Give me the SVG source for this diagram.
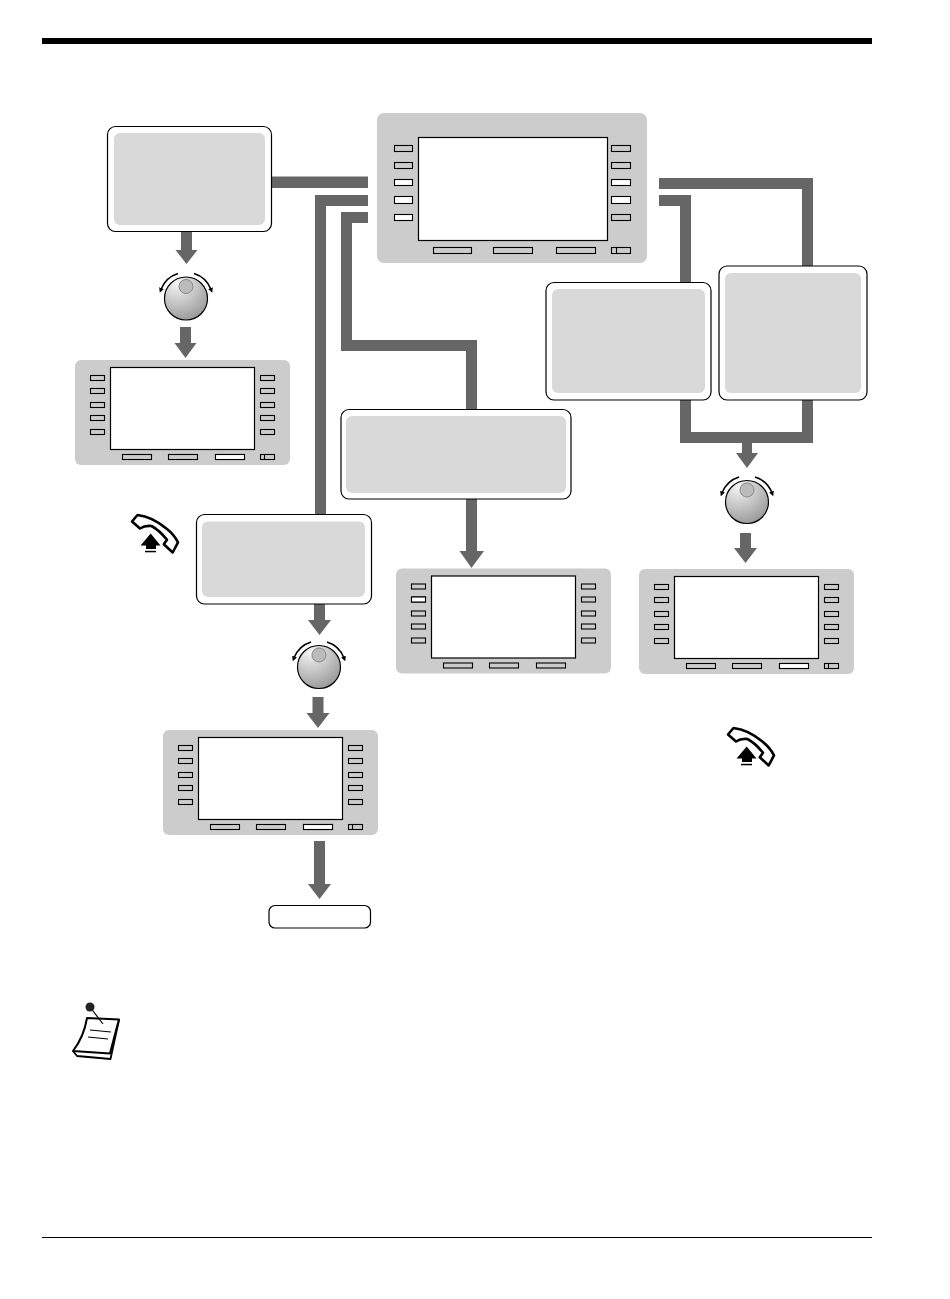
<svg xmlns="http://www.w3.org/2000/svg" xmlns:xlink="http://www.w3.org/1999/xlink" width="950" height="1299" viewBox="0 0 950 1299">
<style>
.panel{fill:#ccc}
.screen{fill:#fff;stroke:#000;stroke-width:1.2}
.btn{fill:#ccc;stroke:#000;stroke-width:1.1}
.on{fill:#fff;stroke:#000;stroke-width:1.1}
.bubble{fill:#fff;stroke:#000;stroke-width:1.2}
.inner{fill:#d9d9d9}
.conn{fill:#666}
</style>
<defs>
<radialGradient id="knob" cx="0.3" cy="0.15" r="1">
<stop offset="0" stop-color="#f4f4f4"/><stop offset="1" stop-color="#8f8f8f"/>
</radialGradient>
<marker id="tick" markerUnits="userSpaceOnUse" markerWidth="5" markerHeight="5" refX="1.500" refY="2.500" orient="auto"><path d="M0 0L5 2.500L0 5Z" fill="#000"/></marker>
<g id="small">
<rect class="panel" width="215" height="105" rx="6"/>
<rect class="screen" x="35.5" y="7.5" width="144" height="82"/>
<g class="btn">
<rect x="15.5" y="15.5" width="14" height="5"/><rect x="15.5" y="28.5" width="14" height="5"/><rect x="15.5" y="42.5" width="14" height="5"/><rect x="15.5" y="55.5" width="14" height="5"/><rect x="15.5" y="69.5" width="14" height="5"/>
<rect x="185.5" y="15.5" width="14" height="5"/><rect x="185.5" y="28.5" width="14" height="5"/><rect x="185.5" y="42.5" width="14" height="5"/><rect x="185.5" y="55.5" width="14" height="5"/><rect x="185.5" y="69.5" width="14" height="5"/>
<rect x="47.5" y="94.5" width="29" height="5"/><rect x="93.5" y="94.5" width="29" height="5"/><rect x="140.5" y="94.5" width="29" height="5"/>
</g>
</g>
<g id="fourth" class="btn"><rect x="185.500" y="94.500" width="14" height="5"/><path d="M189.500 94.500V99.500" fill="none"/></g>
<g id="dial">
<path d="M-8 -25A26.500 26.500 0 0 0 -25 -9" fill="none" stroke="#000" stroke-width="1.600" marker-end="url(#tick)"/>
<path d="M8 -25A26.500 26.500 0 0 1 25 -9" fill="none" stroke="#000" stroke-width="1.600" marker-end="url(#tick)"/>
<circle r="21.500" fill="url(#knob)" stroke="#000" stroke-width="1.200"/>
<circle cy="-12" r="7" fill="#bbb" stroke="#888" stroke-width="1"/>
</g>
<g id="hand">
<path d="M132 521.500L137.500 515C147 516 158 521.500 166.700 528.800C172 533 175.500 537.500 178 542.300L172.700 552.500L163.800 544.300L167 539.800C162 533.500 157 529 151.500 526C147 525.500 143 526.500 140 528.500Z" fill="#fff" stroke="#000" stroke-width="2.600" stroke-linejoin="round"/>
<path d="M140.500 545.500L150.700 533.500L160.500 545.500H156V549H146V545.500Z" fill="#000"/>
<rect x="145" y="550.800" width="11" height="1.500" fill="#000"/>
</g>
</defs>

<rect x="42" y="38" width="830" height="6" fill="#000"/>
<rect x="42" y="1237" width="830" height="1" fill="#000"/>

<g id="connectors" class="conn">
<path d="M272 176.500H368V188H272Z"/>
<path d="M315 514V195H368V206H326V514Z"/>
<path d="M341 212H368V223H352V340H477V409H466V351H341Z"/>
<path d="M659 178H813V266H802V189H659Z"/>
<path d="M659 195H691V282H680V206H659Z"/>
<path d="M680 400H691V432H802V400H813V443H752V453H758L747 468L736 453H742V443H680Z"/>
<path d="M181 232H192V250H197.500L186.500 264L175.500 250H181Z"/>
<path d="M180 327H191V343H196.500L185.500 358L174.500 343H180Z"/>
<path d="M314 604H325V620H331L319.500 635L308 620H314Z"/>
<path d="M312.500 697H323.500V713H329.500L318 728L306.500 713H312.500Z"/>
<path d="M314 841H325V884H331L319.500 899L308 884H314Z"/>
<path d="M466 499H477V551H484L471.500 568L459.500 551H466Z"/>
<path d="M740 533H751V548H757L745.500 563L734 548H740Z"/>
</g>

<g id="panel-main">
<rect class="panel" x="377" y="113" width="270" height="150" rx="7"/>
<rect class="screen" x="418.500" y="137.500" width="189" height="103"/>
<g class="btn">
<rect x="394.500" y="145.500" width="18" height="6"/><rect x="394.500" y="162.500" width="18" height="6"/>
<rect x="611.500" y="145.500" width="19" height="6"/><rect x="611.500" y="162.500" width="19" height="6"/><rect x="611.500" y="214.500" width="19" height="6"/>
<rect x="433.500" y="247.500" width="38" height="6"/><rect x="493.500" y="247.500" width="39" height="6"/><rect x="556.500" y="247.500" width="39" height="6"/><rect x="611.500" y="247.500" width="19" height="6"/><path d="M616.500 247.500V253.500" fill="none"/>
</g>
<g class="on">
<rect x="394.500" y="179.500" width="18" height="6"/><rect x="394.500" y="196.500" width="18" height="7"/><rect x="394.500" y="214.500" width="18" height="6"/>
<rect x="611.500" y="179.500" width="19" height="6"/><rect x="611.500" y="196.500" width="19" height="7"/>
</g>
</g>

<g id="bubble-1"><rect class="bubble" x="107.500" y="126.500" width="164" height="105" rx="8"/><rect class="inner" x="114" y="133" width="151" height="92" rx="6"/></g>
<g id="bubble-2"><rect class="bubble" x="341" y="409.500" width="230" height="89.500" rx="8"/><rect class="inner" x="346" y="416" width="220" height="77" rx="6"/></g>
<g id="bubble-3"><rect class="bubble" x="196.500" y="514.500" width="175" height="89.500" rx="8"/><rect class="inner" x="202" y="521.500" width="163" height="75.500" rx="6"/></g>
<g id="bubble-4"><rect class="bubble" x="546" y="282.500" width="165" height="117.500" rx="8"/><rect class="inner" x="552" y="289" width="153" height="104" rx="6"/></g>
<g id="bubble-5"><rect class="bubble" x="719" y="266" width="148" height="134" rx="8"/><rect class="inner" x="725" y="273" width="136" height="120" rx="6"/></g>

<g id="panel-a"><use href="#small" x="75" y="360"/><use href="#fourth" x="75" y="360"/><rect class="on" x="215.500" y="454.500" width="29" height="5"/></g>
<g id="panel-b"><use href="#small" x="163" y="730"/><use href="#fourth" x="163" y="730"/><rect class="on" x="303.500" y="824.500" width="29" height="5"/></g>
<g id="panel-c"><use href="#small" x="396" y="568.500"/><rect class="on" x="411.500" y="597" width="14" height="5"/></g>
<g id="panel-d"><use href="#small" x="639" y="569"/><use href="#fourth" x="639" y="569"/><rect class="on" x="779.500" y="663.500" width="29" height="5"/></g>

<g id="dial-1"><use href="#dial" x="186" y="298.500"/></g>
<g id="dial-2"><use href="#dial" x="319" y="667"/></g>
<g id="dial-3"><use href="#dial" x="747" y="502"/></g>

<g id="handset-1"><use href="#hand"/></g>
<g id="handset-2"><use href="#hand" x="596" y="213"/></g>

<g id="end-box"><rect x="269" y="905.500" width="101.500" height="22.500" rx="6" fill="#fff" stroke="#000" stroke-width="1.200"/></g>

<g id="note">
<path d="M119 1020L110.500 1059L77 1056L73 1051" fill="#fff" stroke="#000" stroke-width="1.800" stroke-linejoin="round"/>
<path d="M87 1018L119 1019.500C116 1030 113 1042 110 1053.500L73 1051C80 1042 85 1030 87 1018Z" fill="#fff" stroke="#000" stroke-width="2" stroke-linejoin="round"/>
<path d="M90 1030L111 1032M88 1037L108 1039" stroke="#000" stroke-width="1.200" fill="none"/>
<path d="M90 1007L103 1024" stroke="#000" stroke-width="1.200" fill="none"/>
<circle cx="90" cy="1007" r="4.500" fill="#222"/>
</g>
</svg>
